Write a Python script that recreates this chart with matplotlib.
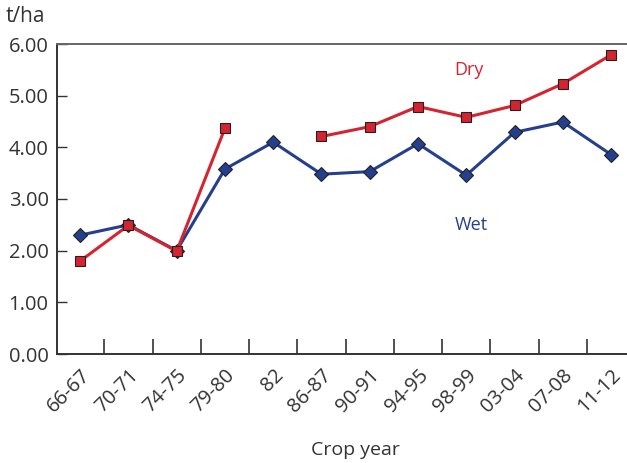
import numpy as np
import matplotlib.pyplot as plt
from matplotlib.ticker import FixedLocator

plt.rcParams['font.family'] = ['Open Sans', 'DejaVu Sans']

# crop years and yields (t/ha)
years = ["66-67", "70-71", "74-75", "79-80", "82", "86-87",
         "90-91", "94-95", "98-99", "03-04", "07-08", "11-12"]
dry = [1.80, 2.49, 1.99, 4.37, np.nan, 4.21,
       4.40, 4.79, 4.58, 4.81, 5.23, 5.79]
wet = [2.30, 2.50, 2.00, 3.58, 4.10, 3.48,
       3.53, 4.07, 3.46, 4.29, 4.49, 3.86]
yticks = [0, 1, 2, 3, 4, 5, 6]

RED = "#d52330"
BLUE = "#253f8f"
TEXT = "#333333"

fig = plt.figure(figsize=(6.27, 4.63), dpi=100)
ax = fig.add_axes([57 / 627, 1 - 354 / 463, 1 - 57 / 627, (354 - 44) / 463])

x = np.arange(len(years))
ax.plot(x, wet, color=BLUE, lw=2.2, marker="D", ms=7.5,
        markerfacecolor=BLUE, markeredgecolor="#222222", markeredgewidth=0.8)
ax.plot(x, dry, color=RED, lw=2.2, marker="s", ms=6.5,
        markerfacecolor=RED, markeredgecolor="#222222", markeredgewidth=0.8)

ax.text(8.05, 5.5, "Dry", color=RED, fontsize=13, ha="center", va="center")
ax.text(8.1, 2.5, "Wet", color=BLUE, fontsize=13, ha="center", va="center")

ax.set_xlim(-0.48, 11.33)
ax.set_ylim(0, 6)

ax.set_xticks(x)
ax.set_xticklabels(years, rotation=45, ha="right", rotation_mode="anchor")
ax.xaxis.set_minor_locator(FixedLocator(x[:-1] + 0.5))
ax.tick_params(axis="x", which="major", length=0, pad=8,
               labelsize=14.5, labelcolor=TEXT)
ax.tick_params(axis="x", which="minor", direction="in", length=11,
               width=1.2, color=TEXT)

ax.set_yticks(yticks)
ax.set_yticklabels([f"{v:.2f}" for v in yticks])
ax.tick_params(axis="y", direction="in", length=7, width=1.0, color=TEXT,
               labelsize=14.5, labelcolor=TEXT, pad=6)

for side in ["left", "bottom"]:
    ax.spines[side].set_color(TEXT)
    ax.spines[side].set_linewidth(1.4)
ax.spines["top"].set_color("#666666")
ax.spines["top"].set_linewidth(1.4)
ax.spines["right"].set_visible(False)

fig.text(6 / 627, 1 - 17 / 463, "t/ha", fontsize=15, color=TEXT,
         ha="left", va="center")
fig.text(355 / 627, 1 - 450 / 463, "Crop year", fontsize=14, color=TEXT,
         ha="center", va="center")

fig.savefig("out.png", dpi=100)
